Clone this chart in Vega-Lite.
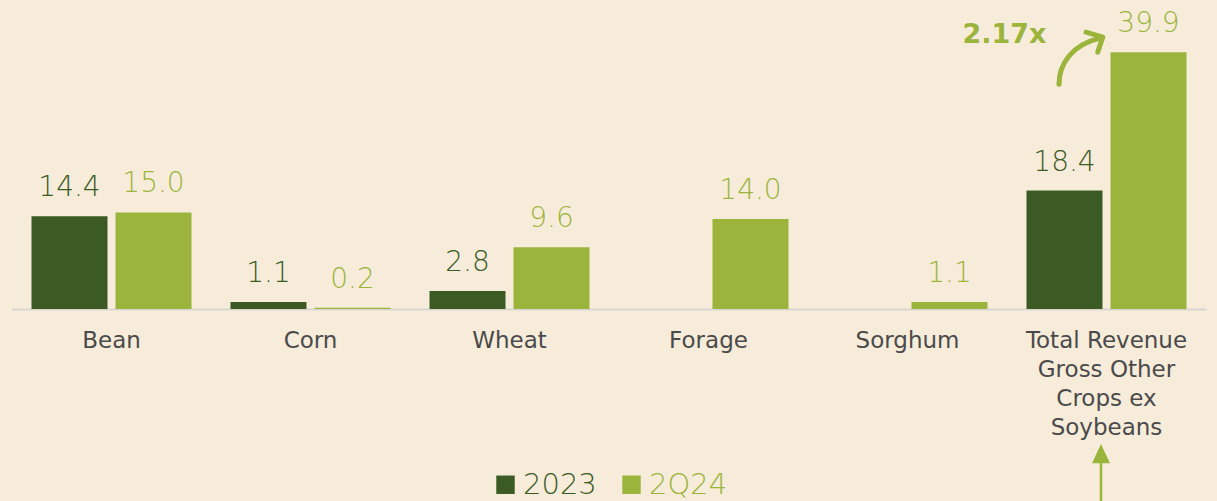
{
  "$schema": "https://vega.github.io/schema/vega-lite/v6.json",
  "autosize": "none",
  "width": 1194,
  "height": 309,
  "padding": {"left": 12, "top": 0, "right": 11, "bottom": 192},
  "background": "#f7ecda",
  "config": {"view": {"stroke": null}, "font": "DejaVu Sans"},
  "datasets": {
    "bars": [
      {"crop": "Bean", "series": "2023", "value": 14.4},
      {"crop": "Bean", "series": "2Q24", "value": 15.0},
      {"crop": "Corn", "series": "2023", "value": 1.1},
      {"crop": "Corn", "series": "2Q24", "value": 0.2},
      {"crop": "Wheat", "series": "2023", "value": 2.8},
      {"crop": "Wheat", "series": "2Q24", "value": 9.6},
      {"crop": "Forage", "series": "2Q24", "value": 14.0},
      {"crop": "Sorghum", "series": "2Q24", "value": 1.1},
      {"crop": "Total Revenue Gross Other Crops ex Soybeans", "series": "2023", "value": 18.4},
      {"crop": "Total Revenue Gross Other Crops ex Soybeans", "series": "2Q24", "value": 39.9}
    ],
    "note": [
      {"crop": "Total Revenue Gross Other Crops ex Soybeans", "value": 39.9, "label": "2.17x", "base": 0}
    ]
  },
  "layer": [
    {
      "data": {"name": "bars"},
      "mark": {"type": "bar"},
      "encoding": {
        "x": {
          "field": "crop", "type": "nominal",
          "scale": {"domain": ["Bean", "Corn", "Wheat", "Forage", "Sorghum", "Total Revenue Gross Other Crops ex Soybeans"], "paddingInner": 0.196, "paddingOuter": 0.098},
          "axis": {
            "title": null, "labelAngle": 0, "ticks": false, "labelPadding": 20,
            "labelFontSize": 23, "labelColor": "#4a4a4a", "labelLimit": 0, "labelLineHeight": 29,
            "domainColor": "#d8d5d1", "domainWidth": 2,
            "labelExpr": "datum.value == 'Total Revenue Gross Other Crops ex Soybeans' ? ['Total Revenue','Gross Other','Crops ex','Soybeans'] : datum.value"
          }
        },
        "xOffset": {"field": "series", "type": "nominal", "scale": {"domain": ["2023", "2Q24"], "paddingInner": 0.095, "paddingOuter": 0}},
        "y": {"field": "value", "type": "quantitative", "scale": {"domain": [0, 48], "nice": false}, "axis": null},
        "color": {
          "field": "series", "type": "nominal",
          "scale": {"domain": ["2023", "2Q24"], "range": ["#3b5a24", "#9bb43c"]},
          "legend": {
            "title": null, "orient": "none", "direction": "horizontal",
            "legendX": 479, "legendY": 470, "padding": 0,
            "symbolType": "square", "symbolSize": 340, "symbolStrokeWidth": 0,
            "labelFontSize": 29, "labelFontWeight": 300, "labelOffset": 3, "columnPadding": 20,
            "encode": {"labels": {"update": {"fill": {"signal": "datum.value === '2023' ? '#3b5a24' : '#9bb43c'"}}}}
          }
        }
      }
    },
    {
      "data": {"name": "bars"},
      "mark": {"type": "text", "fontSize": 28, "fontWeight": 300, "dy": -20, "baseline": "alphabetic"},
      "encoding": {
        "x": {"field": "crop", "type": "nominal"},
        "xOffset": {"field": "series", "type": "nominal"},
        "y": {"field": "value", "type": "quantitative"},
        "text": {"field": "value", "type": "quantitative", "format": ".1f"},
        "color": {"condition": {"test": "datum.series === '2023'", "value": "#3b5a24"}, "value": "#9bb43c"}
      }
    },
    {
      "data": {"name": "note"},
      "mark": {"type": "text", "fontSize": 27, "fontWeight": "bold", "dx": -102, "dy": -9, "baseline": "alphabetic", "color": "#9bb43c"},
      "encoding": {
        "x": {"field": "crop", "type": "nominal"},
        "y": {"field": "value", "type": "quantitative"},
        "text": {"field": "label"}
      }
    },
    {
      "data": {"name": "note"},
      "mark": {
        "type": "point", "filled": false, "size": 2500, "stroke": "#9bb43c", "strokeWidth": 5, "strokeCap": "round", "strokeJoin": "round", "opacity": 1,
        "shape": "M -1.9 1.28 C -1.9 0.5 -1.4 -0.3 -0.25 -0.56 M -0.82 -0.8 L -0.15 -0.6 L -0.35 0"
      },
      "encoding": {
        "x": {"field": "crop", "type": "nominal"},
        "y": {"field": "value", "type": "quantitative"}
      }
    },
    {
      "data": {"name": "note"},
      "mark": {
        "type": "point", "filled": true, "size": 2500, "fill": "#9bb43c", "stroke": "#9bb43c", "strokeWidth": 2.5, "opacity": 1,
        "shape": "M -0.5 6.12 L -0.22 5.52 L 0.06 6.12 Z M -0.22 6.1 L -0.22 8.2"
      },
      "encoding": {
        "x": {"field": "crop", "type": "nominal"},
        "y": {"field": "base", "type": "quantitative"}
      }
    }
  ]
}
